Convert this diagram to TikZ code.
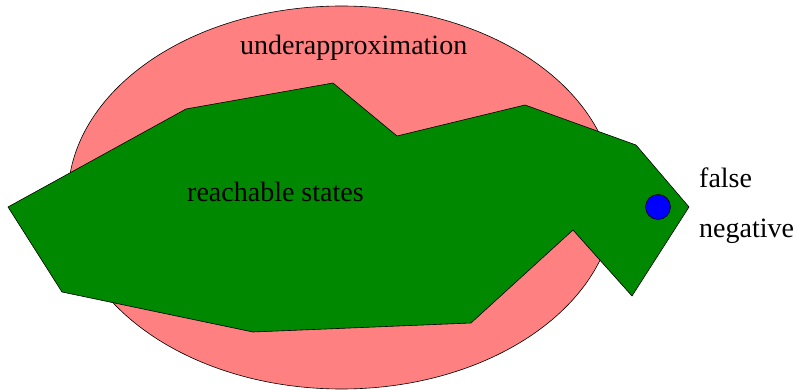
\documentclass[tikz,border=0pt]{standalone}
\usepackage{fontspec}
\setmainfont{Liberation Serif}
\definecolor{approx}{RGB}{255,128,128}
\definecolor{reach}{RGB}{0,136,0}
\begin{document}
\begin{tikzpicture}[x=1pt,y=-1pt,
  lbl/.style={anchor=base west,inner sep=0pt,font=\fontsize{28}{33}\selectfont},
  outline/.style={draw=black,line width=0.6pt}]
\useasboundingbox (0,0) rectangle (798,390);
\draw[outline,fill=approx] (341.5,197.5) ellipse [x radius=273.5,y radius=191.5];
\draw[outline,fill=reach,line join=miter]
  (8,207) -- (186,109) -- (333,83) -- (397,136) -- (525,105) -- (636,145)
  -- (689,207) -- (632,296) -- (573,230) -- (471,323) -- (253,332) -- (62,292) -- cycle;
\draw[outline,fill=blue] (658,207) circle [radius=12.5];
\node[lbl] (under) at (240,55) {underapproximation};
\node[lbl] (reach) at (187,202) {reachable states};
\node[lbl] (false) at (699,188) {false};
\node[lbl] (neg) at (699,238) {negative};
\end{tikzpicture}
\end{document}
